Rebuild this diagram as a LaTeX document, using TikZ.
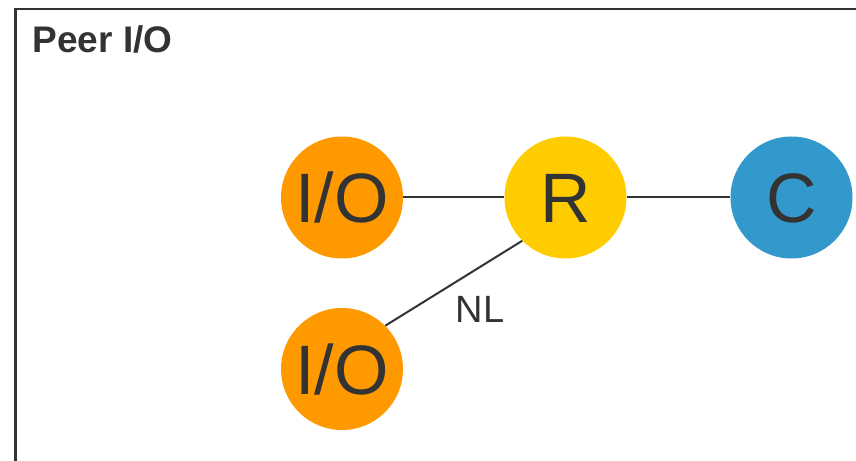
\documentclass[tikz,border=0pt]{standalone}
\usepackage{fontspec}
\setmainfont{Liberation Sans}
\definecolor{ink}{HTML}{333333}
\definecolor{ioorange}{HTML}{FF9900}
\definecolor{ryellow}{HTML}{FFCC00}
\definecolor{cblue}{HTML}{3399CC}
\begin{document}
\begin{tikzpicture}[x=1bp,y=-1bp,
  unit/.style={circle,minimum size=122bp,inner sep=0pt,text=ink,
    font=\fontsize{70bp}{80bp}\selectfont,text height=50bp,text depth=0pt},
  link/.style={draw=ink,line width=2bp},
  lbl/.style={text=ink,inner sep=0pt,anchor=base west}]
\useasboundingbox (0,0) rectangle (856,461);
\clip (0,0) rectangle (856,461);
% frame around the group, open at right and bottom
\draw[ink,line width=2.5bp] (15.5,470) -- (15.5,9) -- (870,9);
\node[lbl,font=\bfseries\fontsize{37bp}{44bp}\selectfont] (title) at (32.5,53) {Peer I/O};
% units
\node[unit,fill=ioorange] (io1) at (342,197.5) {I/O};
\node[unit,fill=ryellow] (r) at (565.5,197.5) {R};
\node[unit,fill=cblue] (c) at (791.5,197.5) {C};
\node[unit,fill=ioorange] (io2) at (342,369) {I/O};
% connections
\draw[link] (io1.east) -- (r.west);
\draw[link] (r.east) -- (c.west);
\draw[link] (r.south west) -- (io2.north east);
\node[lbl,font=\fontsize{38bp}{44bp}\selectfont] (nl) at (455.5,322.5) {NL};
\end{tikzpicture}
\end{document}
